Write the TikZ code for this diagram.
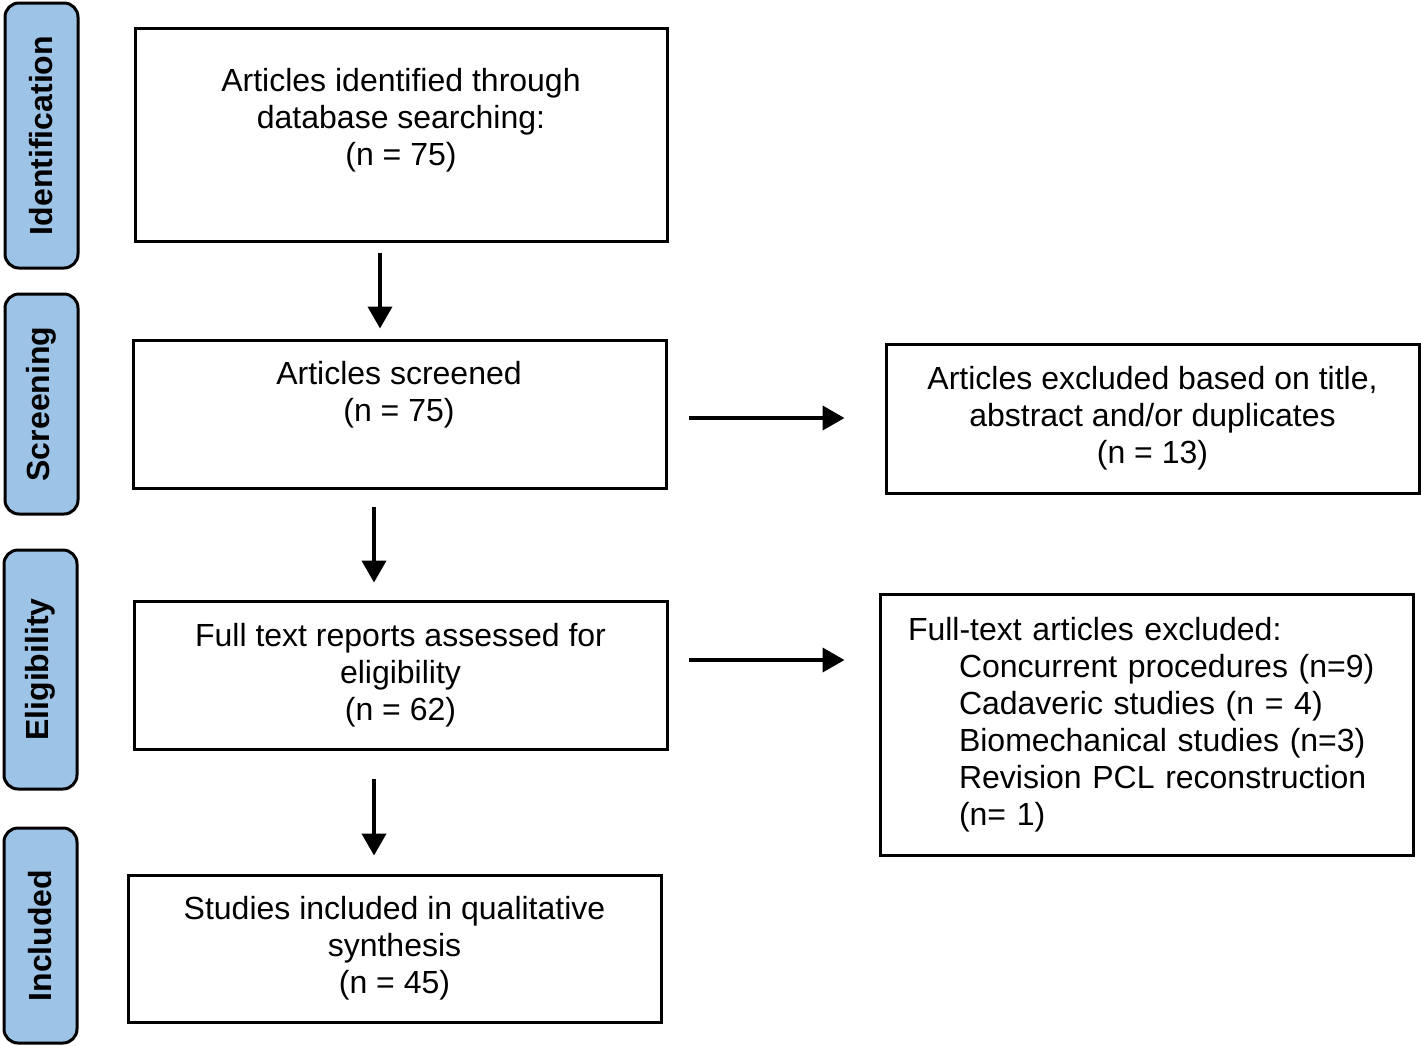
\documentclass[tikz,border=0pt]{standalone}
\usepackage{fontspec}
\setmainfont{Liberation Sans}
\usetikzlibrary{arrows.meta}
\usetikzlibrary{positioning}

\definecolor{phaseblue}{RGB}{157,195,230}

\tikzset{
  box/.style={draw, line width=3pt, inner sep=0pt, font=\fontsize{32}{37}\selectfont, align=center},
  txt/.style={font=\fontsize{32}{37}\selectfont, align=center, inner sep=0pt},
  phase/.style={draw, line width=3pt, fill=phaseblue, rounded corners=14pt, rotate=90,
    minimum height=73pt, inner sep=0pt, font=\fontsize{32}{37}\selectfont\bfseries},
  arr/.style={line width=4pt, -{Triangle[length=22pt,width=24pt]}}
}

\begin{document}
\begin{tikzpicture}[x=1pt, y=-1pt]
\useasboundingbox (0,0) rectangle (1421,1045);

% phases
\node[phase, minimum width=265pt] at (41.5,135.5) (pident) {Identification};
\node[phase, minimum width=220pt] at (41.5,404) (pscreen) {Screening};
\node[phase, minimum width=239pt] at (40.5,669.5) (pelig) {Eligibility};
\node[phase, minimum width=215pt] at (40.5,935.5) (pincl) {Included};

% main column
\node[box, minimum width=532pt, minimum height=213pt] at (401,134.5) (ident) {};
\node[txt] at (401,120) (identtxt) {Articles identified through\\database searching:\\(n = 75)};

\node[box, minimum width=533pt, minimum height=148pt] at (399.5,414) (screen) {};
\node[txt] at (399,394.5) (screentxt) {Articles screened\\(n = 75)};

\node[box, minimum width=533pt, minimum height=148pt] at (400.5,675) (elig)
    {Full text reports assessed for\\eligibility\\(n = 62)};

\node[box, minimum width=533pt, minimum height=147pt] at (394.5,948.5) (incl)
    {Studies included in qualitative\\synthesis\\(n = 45)};

% exclusions
\node[box, minimum width=533pt, minimum height=149pt] at (1152.5,418.5) (excla)
    {Articles excluded based on title,\\abstract and/or duplicates\\(n = 13)};

\node[box, minimum width=533pt, minimum height=261pt, align=left, text width=477pt] at (1146.5,724.5) (exclb)
    {Full-text articles excluded:\\
     \hspace*{51pt}Concurrent procedures (n=9)\\
     \hspace*{51pt}Cadaveric studies (n = 4)\\
     \hspace*{51pt}Biomechanical studies (n=3)\\
     \hspace*{51pt}Revision PCL reconstruction\\
     \hspace*{51pt}(n= 1)};

% arrows
\draw[arr, shorten <=10pt, shorten >=10pt] ([xshift=-21pt]ident.south) -- ([xshift=-21pt]ident.south |- screen.north);
\draw[arr, shorten <=17pt, shorten >=17pt] ([xshift=-25.5pt]screen.south) -- ([xshift=-25.5pt]screen.south |- elig.north);
\draw[arr, shorten <=28pt, shorten >=18pt] ([xshift=-26.5pt]elig.south) -- ([xshift=-26.5pt]elig.south |- incl.north);

\draw[arr, shorten <=21pt, shorten >=40pt] ([yshift=-4pt]screen.east) -- ([yshift=-4pt]screen.east -| excla.west);
\draw[arr, shorten <=20pt, shorten >=34pt] ([yshift=15pt]elig.east) -- ([yshift=15pt]elig.east -| exclb.west);
\end{tikzpicture}
\end{document}
